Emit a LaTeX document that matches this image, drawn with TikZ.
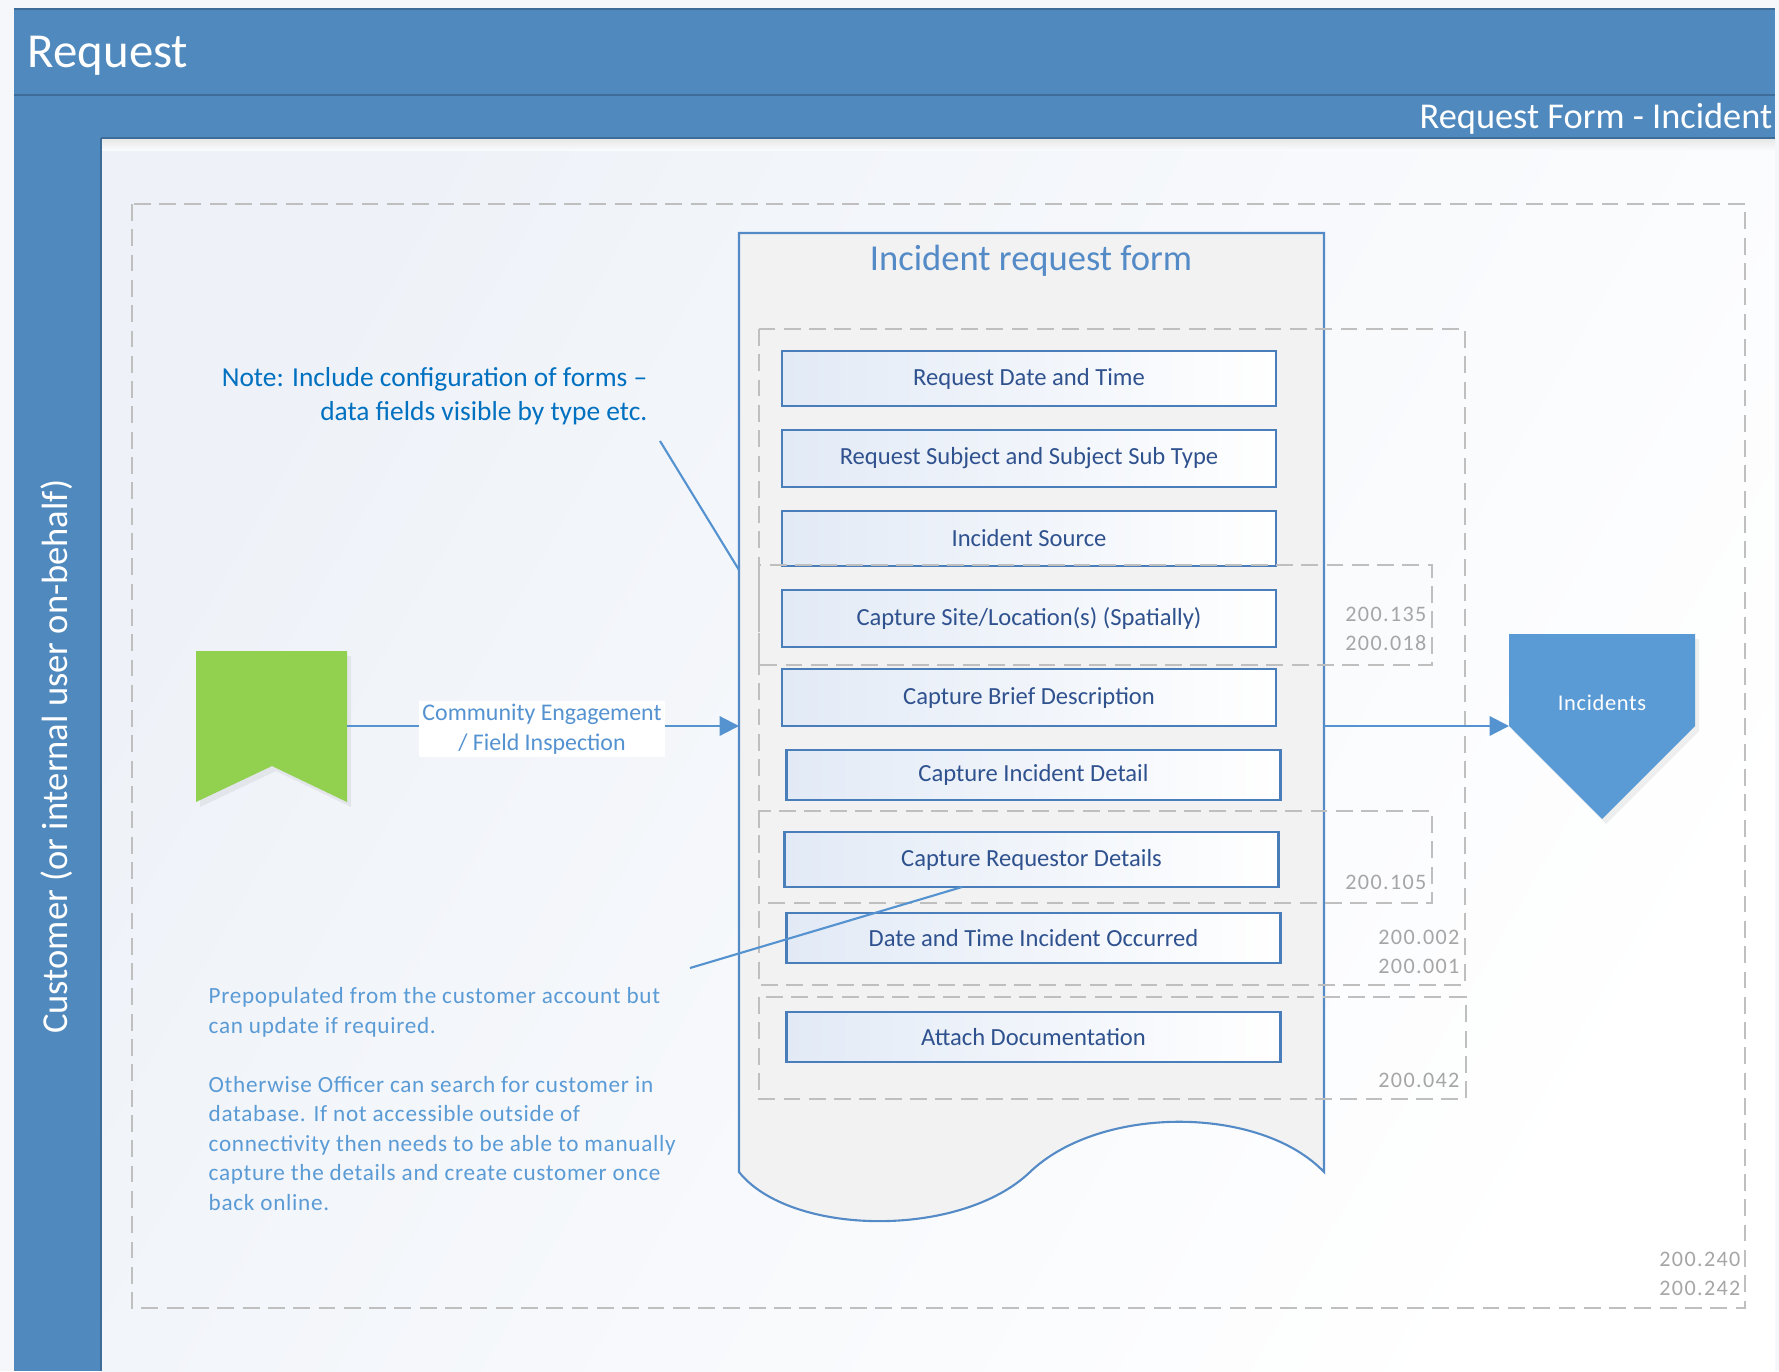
\documentclass[tikz,border=0pt]{standalone}
\usepackage{fontspec}
\setmainfont{Carlito}
\newfontfamily\widefont[LetterSpace=6]{Carlito}
\newfontfamily\spacedfont[LetterSpace=3]{Carlito}
\usepackage{tikz}
\usetikzlibrary{positioning,shadows,arrows.meta}
\definecolor{pagebg}{RGB}{245,247,251}
\definecolor{contentL}{RGB}{238,242,248}
\definecolor{headblue}{RGB}{79,137,189}
\definecolor{headline}{RGB}{62,108,152}
\definecolor{formfill}{RGB}{242,242,242}
\definecolor{formline}{RGB}{84,139,199}
\definecolor{fieldline}{RGB}{74,126,187}
\definecolor{fieldshade}{RGB}{226,234,246}
\definecolor{fieldtext}{RGB}{47,82,143}
\definecolor{grpgrey}{RGB}{191,191,191}
\definecolor{codegrey}{RGB}{166,166,166}
\definecolor{notetext}{RGB}{0,112,192}
\definecolor{lightblue}{RGB}{91,155,213}
\definecolor{flowblue}{RGB}{84,146,208}
\definecolor{flaggreen}{RGB}{146,208,80}

\begin{document}
\begin{tikzpicture}[
	field/.style={draw=fieldline, line width=0.6pt, left color=fieldshade, right color=white, minimum width=4.94cm, minimum height=0.55cm, inner sep=0pt, text=fieldtext, font=\fontsize{7}{8}\selectfont},
	grp/.style={draw=grpgrey, line width=0.6pt, dash pattern=on 4.8pt off 2.4pt},
	code/.style={text=codegrey, inner sep=0pt, align=right, font=\widefont\fontsize{6.3}{8.2}\selectfont},
	flow/.style={draw=flowblue, line width=0.6pt, -{Triangle[length=5.5pt,width=5.5pt]}},
	callout/.style={draw=flowblue, line width=0.6pt}
]
		\useasboundingbox (0,0) rectangle (17.79,-13.71);
		\fill[pagebg] (0,0) rectangle (17.79,-13.71);
		\shade[left color=contentL, right color=white, shading angle=60] (1.01,-1.38) rectangle (17.75,-13.71);
		\shade[top color=black!10, bottom color=contentL!30] (1.01,-1.38) rectangle (17.75,-1.50);
		\fill[headblue] (0.14,-0.09) rectangle (17.75,-1.38);
		\fill[headblue] (0.14,-1.38) rectangle (1.01,-13.71);
		\draw[headline, line width=0.8pt] (0.14,-0.09) -- (17.75,-0.09);
		\draw[headline, line width=0.8pt] (0.14,-0.95) -- (17.75,-0.95);
		\draw[headline, line width=0.8pt] (1.01,-1.38) -- (17.75,-1.38);
		\draw[headline, line width=0.6pt] (1.01,-1.38) -- (1.01,-13.71);
		\node [anchor=base west, text=white, inner sep=0pt, font=\fontsize{13.9}{15}\selectfont] (title) at (0.27,-0.67) {Request};
		\node [anchor=base east, text=white, inner sep=0pt, font=\fontsize{10.35}{12}\selectfont] (subtitle) at (17.73,-1.28) {Request Form - Incident};
		\node [rotate=90, text=white, font=\fontsize{10.4}{12}\selectfont] (lane) at (0.57,-7.565) {Customer (or internal user on-behalf)};

		\draw[grp] (1.32,-2.04) rectangle (17.45,-13.08);
		\node [code, anchor=east] (c240) at (17.41,-12.735) {200.240\\200.242};

		\filldraw[draw=formline, fill=formfill, line width=0.6pt] (7.39,-2.33) -- (13.24,-2.33) -- (13.24,-11.72) .. controls (12.6,-11.05) and (11.0,-11.05) .. (10.3,-11.72) .. controls (9.6,-12.39) and (7.9,-12.36) .. (7.39,-11.72) -- cycle;
		\node [text=formline, font=\fontsize{10.4}{12}\selectfont] (formtitle) at (10.31,-2.61) {Incident request form};
		\coordinate (formW) at (7.39,-7.26);
		\coordinate (formE) at (13.24,-7.26);

		\node [field] (f1) at (10.29,-3.785) {Request Date and Time};
		\node [field, minimum height=0.57cm] (f2) at (10.29,-4.585) {Request Subject and Subject Sub Type};
		\node [field] (f3) at (10.29,-5.385) {Incident Source};
		\node [field, minimum height=0.57cm] (f4) at (10.29,-6.185) {Capture Site/Location(s) (Spatially)};
		\node [field, minimum height=0.57cm] (f5) at (10.29,-6.975) {Capture Brief Description};
		\node [field, minimum height=0.50cm] (f6) at (10.335,-7.75) {Capture Incident Detail};
		\node [field] (f7) at (10.315,-8.595) {Capture Requestor Details};
		\node [field, minimum height=0.50cm] (f8) at (10.335,-9.38) {Date and Time Incident Occurred};
		\node [field, minimum height=0.50cm] (f9) at (10.335,-10.37) {Attach Documentation};

		\draw[grp] (7.59,-3.29) rectangle (14.65,-9.85);
		\draw[grp] (7.59,-5.65) rectangle (14.32,-6.65);
		\draw[grp] (7.59,-8.11) rectangle (14.32,-9.03);
		\draw[grp] (7.59,-9.97) rectangle (14.66,-10.99);
		\node [code, anchor=east] (c135) at (14.27,-6.29) {200.135\\200.018};
		\node [code, anchor=east] (c105) at (14.27,-8.82) {200.105};
		\node [code, anchor=east] (c002) at (14.60,-9.515) {200.002\\200.001};
		\node [code, anchor=east] (c042) at (14.60,-10.80) {200.042};

		\fill[flaggreen, drop shadow={opacity=0.12, shadow xshift=0.04, shadow yshift=-0.05}] (1.96,-6.51) -- (3.47,-6.51) -- (3.47,-8.02) -- (2.72,-7.66) -- (1.96,-8.02) -- cycle;
		\coordinate (flag) at (3.47,-7.26);
		\fill[lightblue, drop shadow={opacity=0.12, shadow xshift=0.04, shadow yshift=-0.05}] (15.09,-6.34) -- (16.95,-6.34) -- (16.95,-7.26) -- (16.02,-8.19) -- (15.09,-7.26) -- cycle;
		\node [text=white, font=\spacedfont\fontsize{6.4}{8}\selectfont] (inc) at (16.02,-7.03) {Incidents};
		\coordinate (incW) at (15.09,-7.26);

		\draw[flow] (flag) -- (formW);
		\node [fill=white, text=flowblue, align=center, inner sep=1pt, font=\fontsize{6.8}{8.4}\selectfont] (channel) at (5.42,-7.29) {Community Engagement\\/ Field Inspection};
		\draw[flow] (formE) -- (incW);

		\node [anchor=north east, align=right, inner sep=0pt, text=notetext, font=\fontsize{7.8}{9.5}\selectfont] (note) at (6.48,-3.67) {Note: Include configuration of forms --\\data fields visible by type etc.};
		\coordinate (noteend) at (6.60,-4.41);
		\coordinate (noteform) at (7.39,-5.70);
		\draw[callout] (noteend) -- (noteform);

		\node [anchor=north west, align=left, inner sep=0pt, text=lightblue, font=\spacedfont\fontsize{6.6}{8.4}\selectfont] (prefill) at (2.08,-9.87) {Prepopulated from the customer account but\\can update if required.\\[8.4pt]Otherwise Officer can search for customer in\\database. If not accessible outside of\\connectivity then needs to be able to manually\\capture the details and create customer once\\back online.};
		\coordinate (prefillend) at (6.90,-9.68);
		\coordinate (reqpt) at (9.62,-8.87);
		\draw[callout] (prefillend) -- (reqpt);
\end{tikzpicture}
\end{document}
